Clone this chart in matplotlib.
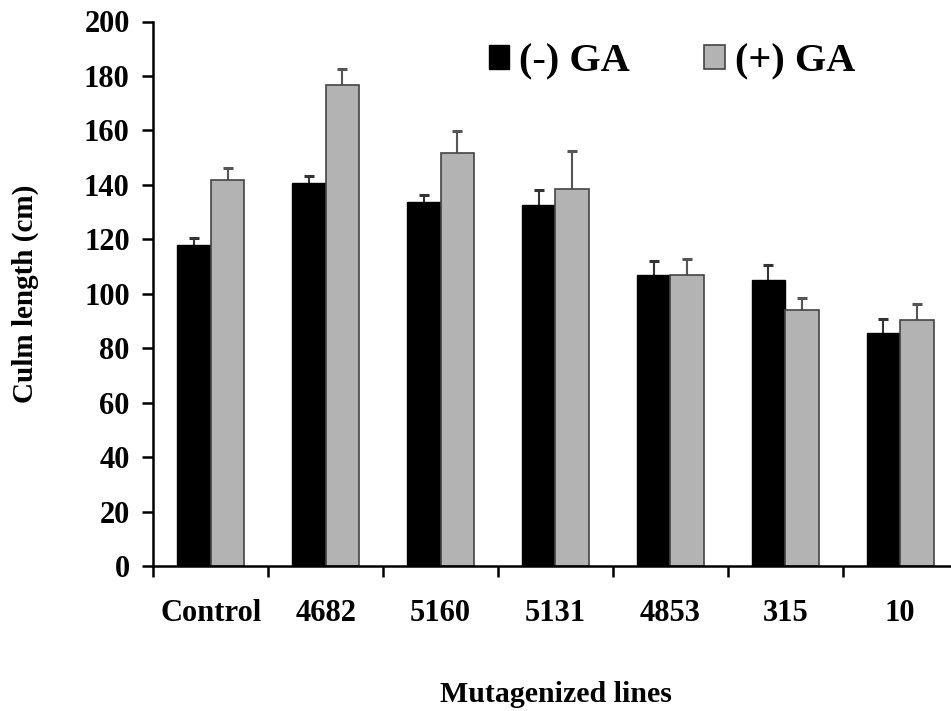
import matplotlib
matplotlib.use("Agg")
import matplotlib.pyplot as plt
import numpy as np
from matplotlib.patches import Patch

categories = ["Control", "4682", "5160", "5131", "4853", "315", "10"]
minus_ga = [117.8, 140.8, 133.6, 132.6, 106.8, 105.1, 85.7]
minus_err = [2.8, 2.3, 2.8, 5.6, 5.2, 5.5, 5.1]
plus_ga = [141.8, 176.6, 151.8, 138.5, 107.0, 94.2, 90.5]
plus_err = [4.3, 6.1, 7.9, 14.0, 5.6, 4.1, 5.8]
series_names = ["(-) GA", "(+) GA"]
yticks = [0, 20, 40, 60, 80, 100, 120, 140, 160, 180, 200]

plt.rcParams['font.family'] = ['Liberation Serif', 'DejaVu Serif']
plt.rcParams['font.weight'] = 'bold'

fig = plt.figure(figsize=(9.51, 7.11), dpi=100)
W, H = 951, 711
x0, x1 = 153.3, 957.6
y0, y1 = 566.0, 21.5
ax = fig.add_axes([x0 / W, 1 - y0 / H, (x1 - x0) / W, (y0 - y1) / H])

x = np.arange(len(categories))
bw = 0.292
ax.bar(x - bw / 2, minus_ga, bw, color='black', edgecolor='black', linewidth=1.0, zorder=2)
ax.bar(x + bw / 2, plus_ga, bw, color='#b3b3b3', edgecolor='#444444', linewidth=1.2, zorder=2)

for xs, vals, errs, col in [(x - bw / 2, minus_ga, minus_err, '#333333'),
                            (x + bw / 2, plus_ga, plus_err, '#555555')]:
    vals = np.array(vals)
    errs = np.array(errs)
    ax.errorbar(xs, vals, yerr=[np.zeros(len(xs)), errs], fmt='none', ecolor=col,
                elinewidth=1.5, capsize=0, zorder=1)
    ax.plot(xs, vals + errs, ls='none', marker='_', ms=7, mew=2.2, color=col, zorder=1)

ax.set_xlim(-0.5, len(categories) - 0.5)
ax.set_ylim(0, 200)
ax.set_yticks(yticks)
ax.tick_params(axis='y', direction='out', length=8, width=1.8, labelsize=22, pad=9)

ax.set_xticks(np.arange(-0.5, len(categories), 1.0))
ax.set_xticklabels([])
ax.tick_params(axis='x', which='major', direction='out', length=8, width=1.8)
ax.set_xticks(x, minor=True)
ax.set_xticklabels(categories, minor=True, fontsize=22, fontweight='bold')
ax.tick_params(axis='x', which='minor', length=0, pad=24)

for s in ['top', 'right']:
    ax.spines[s].set_visible(False)
for s in ['left', 'bottom']:
    ax.spines[s].set_linewidth(1.8)

ax.set_ylabel("Culm length (cm)", fontsize=21, fontweight='bold', labelpad=32)
ax.set_xlabel("Mutagenized lines", fontsize=21.5, fontweight='bold', labelpad=38)

handles = [Patch(facecolor='black', edgecolor='black'),
           Patch(facecolor='#b3b3b3', edgecolor='#444444', linewidth=1.2)]
fig.legend(handles, series_names, loc='center left', bbox_to_anchor=(489 / W, 1 - 62 / H),
           ncol=2, frameon=False, prop=dict(family='Liberation Serif', weight='bold', size=29),
           handlelength=0.5, handleheight=0.55, handletextpad=0.25, columnspacing=1.85,
           borderaxespad=0, borderpad=0)

fig.savefig("out.png", dpi=100)
